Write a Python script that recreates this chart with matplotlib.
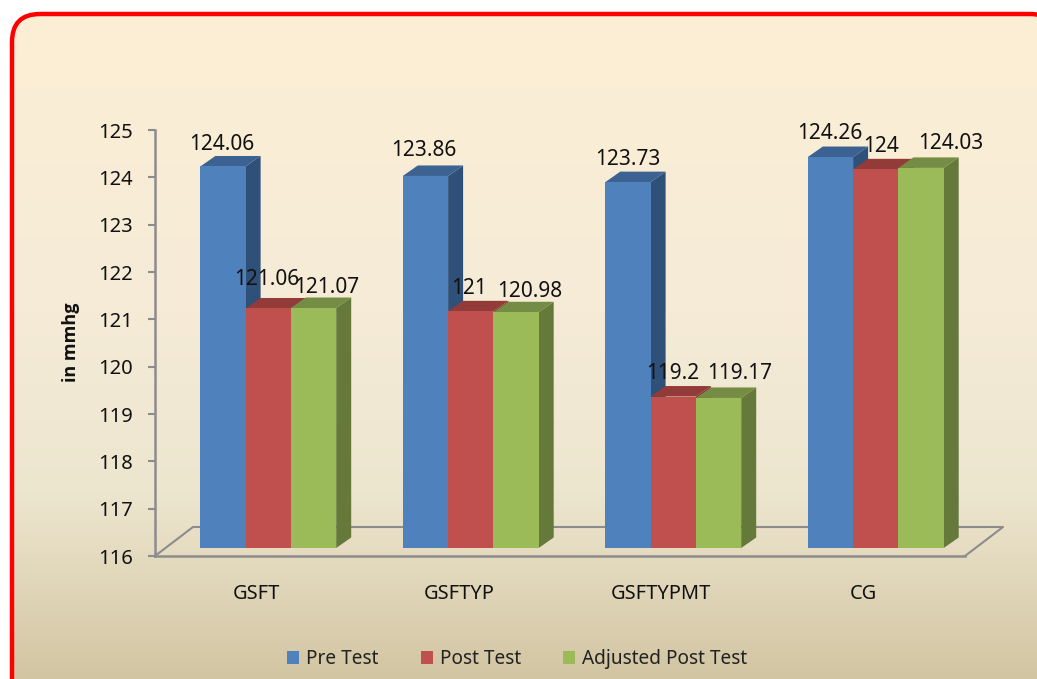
import matplotlib
matplotlib.use("Agg")
import matplotlib.pyplot as plt
import numpy as np
from matplotlib.colors import LinearSegmentedColormap
from matplotlib.patches import FancyBboxPatch, Polygon
from matplotlib.transforms import Affine2D

plt.rcParams['font.family'] = ['Noto Sans', 'DejaVu Sans']

# data
categories = ["GSFT", "GSFTYP", "GSFTYPMT", "CG"]
series_names = ["Pre Test", "Post Test", "Adjusted Post Test"]
pre_test = [124.06, 123.86, 123.73, 124.26]
post_test = [121.06, 121.00, 119.20, 124.00]
adjusted_post_test = [121.07, 120.98, 119.17, 124.03]
value_labels = [
    ["124.06", "123.86", "123.73", "124.26"],
    ["121.06", "121", "119.2", "124"],
    ["121.07", "120.98", "119.17", "124.03"],
]
y_ticks = list(range(116, 126))

# colours: front, side, top
front_colors = ["#4F81BD", "#C0504D", "#9BBB59"]
side_colors = ["#2F5078", "#8A3533", "#64793A"]
top_colors = ["#3B6291", "#923B39", "#748C43"]
axis_grey = "#8C8C8C"

W, H = 1037, 679
fig = plt.figure(figsize=(W / 100, H / 100), dpi=100, facecolor="white")

# background panel with the red rounded frame
bg = fig.add_axes([0, 0, 1, 1])
bg.set_xlim(0, W)
bg.set_ylim(H, 0)
bg.axis("off")
cmap = LinearSegmentedColormap.from_list("panel", [
    (0.00, "#FDEFD5"), (0.45, "#F5EBD7"), (0.72, "#EDE6CF"),
    (0.84, "#E2D8BC"), (1.00, "#D2C5A2")])
img = bg.imshow(np.linspace(0, 1, 256).reshape(-1, 1), cmap=cmap, aspect="auto",
                extent=(0, W, H, 13), zorder=0)
# the frame runs off the canvas on the right and bottom, use it as a plain polygon
rounded = FancyBboxPatch((12, 14), 1046, 700, boxstyle="round,pad=0,rounding_size=28")
frame_pts = rounded.get_path().to_polygons()[0]
clip = Polygon(frame_pts, closed=True, fc="none", ec="none")
bg.add_patch(clip)
img.set_clip_path(clip)
bg.add_patch(Polygon(frame_pts, closed=True, fc="none", ec="#FF0000", lw=3.2, zorder=1))
bg.set_xlim(0, W)
bg.set_ylim(H, 0)

# plot axes, front edge of the floor runs along the x axis
ax = fig.add_axes([155 / W, 1 - 556 / H, 810 / W, 426 / H])
ax.patch.set_alpha(0)
ax.set_xlim(-0.5, 3.5)
ax.set_ylim(116, 125)
px_x = 810 / 4
px_y = 426 / 9

# floor outline
fx, fy = 38 / px_x, 29 / px_y
ax.plot([-0.5, -0.5 + fx, 3.5 + fx, 3.5], [116, 116 + fy, 116 + fy, 116],
        color=axis_grey, lw=1.5, clip_on=False, zorder=1)

# bars sit a little behind the axis plane
shift = ax.transData + Affine2D().translate(12, 8)
bar_w = 45.3 / px_x
dx, dy = 15 / px_x, 10.5 / px_y
x_pos = np.arange(len(categories))
all_series = [pre_test, post_test, adjusted_post_test]
handles = []

for s, vals in enumerate(all_series):
    xs = x_pos + (s - 1) * bar_w
    for x, v in zip(xs, vals):
        left, right = x - bar_w / 2, x + bar_w / 2
        ax.fill([right, right + dx, right + dx, right],
                [116, 116 + dy, v + dy, v], color=side_colors[s], lw=0,
                transform=shift, clip_on=False, zorder=2 + s)
        ax.fill([left, left + dx, right + dx, right],
                [v, v + dy, v + dy, v], color=top_colors[s], lw=0,
                transform=shift, clip_on=False, zorder=2 + s)
    b = ax.bar(xs, np.array(vals) - 116, bottom=116, width=bar_w, color=front_colors[s],
               transform=shift, clip_on=False, zorder=2 + s, label=series_names[s])
    handles.append(b)

# data labels, each placed by hand like the original (offset in pixels)
label_offsets = [
    [(11, 30), (10, 33), (12, 31), (11, 32)],
    [(11, 37), (10, 31), (12, 31), (17, 31)],
    [(25, 29), (26, 29), (33, 32), (42, 32)],
]
for s, vals in enumerate(all_series):
    for i, v in enumerate(vals):
        ax.annotate(value_labels[s][i], xy=(x_pos[i] + (s - 1) * bar_w, v),
                    xytext=label_offsets[s][i], textcoords="offset pixels",
                    ha="center", va="center", fontsize=15, color="#111111",
                    annotation_clip=False, zorder=10)

ax.set_xticks(x_pos, categories)
ax.set_yticks(y_ticks)
ax.tick_params(axis="x", length=0, pad=20, labelsize=14.4, labelcolor="#111111")
ax.tick_params(axis="y", length=5, width=1.5, color=axis_grey, pad=11, labelsize=14.5,
               labelcolor="#111111")
for side in ["top", "right"]:
    ax.spines[side].set_visible(False)
for side in ["left", "bottom"]:
    ax.spines[side].set_color(axis_grey)
    ax.spines[side].set_linewidth(1.8)

fig.text(71 / W, 1 - 342 / H, "in mmhg", rotation=90, ha="center", va="center",
         fontsize=13, fontweight="bold", family="Open Sans", color="#111111")

ax.legend(handles, series_names, ncol=3, frameon=False, loc="center",
          bbox_to_anchor=(517 / W, 1 - 659 / H), bbox_transform=fig.transFigure,
          fontsize=13.7, handlelength=0.63, handleheight=0.7, handletextpad=0.37,
          columnspacing=2.2, labelcolor="#222222")

fig.savefig("out.png", dpi=100)
